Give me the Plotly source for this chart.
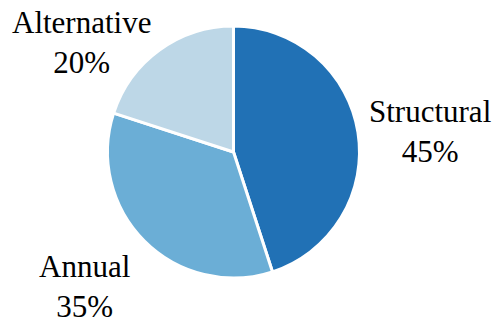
import plotly.graph_objects as go

labels = ['Structural', 'Annual', 'Alternative']
values = [45, 35, 20]
colors = ['#2171b5', '#6baed6', '#bdd7e7']

# label box positions in pixels (anchor x, center y)
label_pos = {
    'Structural': (367, 132, 'left'),
    'Annual': (132, 286, 'right'),
    'Alternative': (153, 42, 'right'),
}

W, H = 492, 325
cx, cy, r = 233.5, 152, 126

fig = go.Figure(go.Pie(
    labels=labels,
    values=values,
    sort=False,
    direction='clockwise',
    rotation=0,
    marker=dict(colors=colors, line=dict(color='white', width=3)),
    textinfo='none',
    hoverinfo='label+percent',
    domain=dict(x=[(cx - r) / W, (cx + r) / W], y=[1 - (cy + r) / H, 1 - (cy - r) / H]),
))

total = sum(values)
for lab, val in zip(labels, values):
    px, py, anchor = label_pos[lab]
    fig.add_annotation(
        x=px / W, y=1 - py / H, xref='paper', yref='paper',
        text=f'{lab}<br>{round(100 * val / total)}%',
        showarrow=False, xanchor=anchor, yanchor='middle', align='center',
        font=dict(family='Liberation Serif, Times New Roman, serif', size=31, color='black'),
    )

fig.update_layout(
    width=W, height=H,
    margin=dict(l=0, r=0, t=0, b=0),
    showlegend=False,
    paper_bgcolor='white',
    plot_bgcolor='white',
)

# drop the default page margin so the figure sits at the window's corner
fig.write_html("out.html", config={'displayModeBar': False},
               post_script="document.body.style.margin='0';")
